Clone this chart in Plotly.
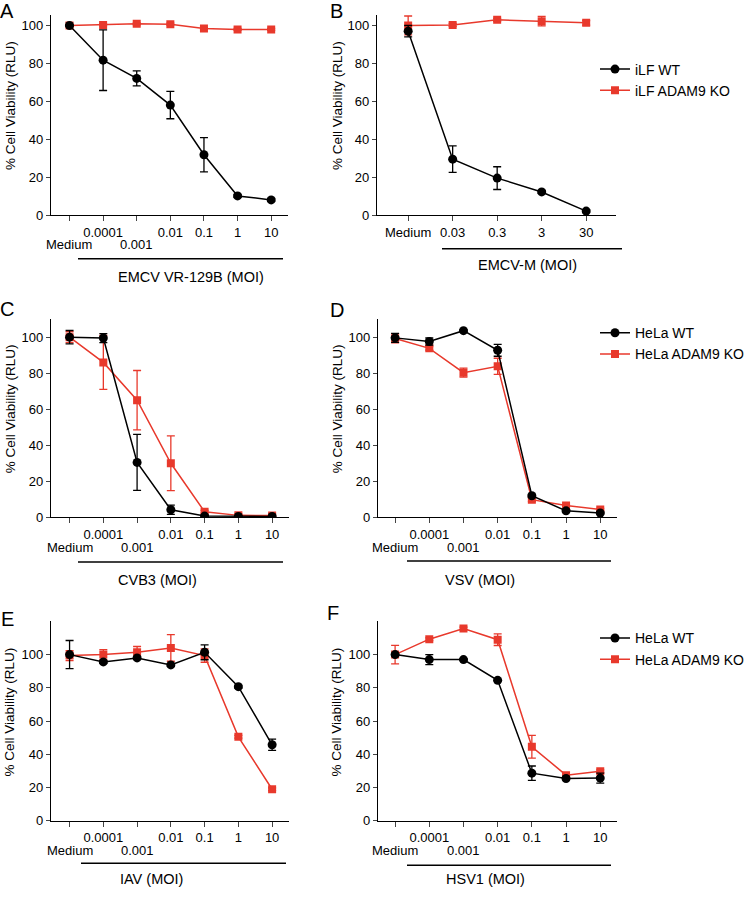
import plotly.graph_objects as go

W, H = 750, 898
FONT = "Liberation Sans, Arial, sans-serif"
BLACK = "#000000"
RED = "#E8392C"

# ---------------- data ----------------
cats7 = ["Medium", "0.0001", "0.001", "0.01", "0.1", "1", "10"]
catsB = ["Medium", "0.03", "0.3", "3", "30"]

A_wt = [100, 81.7, 72.1, 58.0, 31.8, 10.1, 8.0]
A_wt_err = [0.5, 16, 4, 7.2, 9, 0.8, 0.8]
A_ko = [100, 100.3, 100.9, 100.7, 98.4, 97.9, 97.9]
A_ko_err = [0.5, 0.5, 0.5, 0.5, 0.5, 0.5, 0.5]

B_wt = [97, 29.5, 19.5, 12.2, 2.1]
B_wt_err = [3, 7, 6, 0.8, 0.8]
B_ko = [100, 100.3, 103, 102.3, 101.4]
B_ko_err = [5, 0.8, 0.8, 2.5, 1.2]

C_wt = [100, 99.5, 30.5, 4.2, 0.7, 0.5, 0.5]
C_wt_err = [3.7, 2.5, 15.5, 2.6, 0.5, 0.5, 0.5]
C_ko = [100, 86, 65, 30, 3.1, 1.1, 1.0]
C_ko_err = [3, 15, 16.5, 15.2, 0.8, 0.5, 0.5]

D_wt = [99.6, 97.6, 103.6, 92.7, 12, 3.6, 2.4]
D_wt_err = [2.5, 2, 0.5, 3.3, 0.8, 0.5, 0.5]
D_ko = [99.3, 93.8, 80.3, 83.8, 9.8, 6.6, 4.4]
D_ko_err = [2.5, 1, 2.5, 4.5, 1, 0.5, 0.5]

E_wt = [100, 95.6, 98, 93.8, 101.4, 80.7, 45.7]
E_wt_err = [8.5, 0.8, 0.8, 0.8, 4.5, 0.8, 3.4]
E_ko = [99.4, 100, 101.4, 104, 99.4, 50.5, 18.9]
E_ko_err = [3, 3, 3.5, 8, 4, 0.8, 0.8]

F_wt = [100, 97, 97, 84.5, 28.6, 25.4, 25.6]
F_wt_err = [0.8, 3, 0.5, 0.5, 4.3, 0.8, 3]
F_ko = [100, 109.3, 115.7, 109, 44.5, 27.4, 29.8]
F_ko_err = [5.6, 0.8, 0.8, 3.5, 6.8, 0.8, 0.8]

yticks = [0, 20, 40, 60, 80, 100]

def fx(px):
    return px / W

def fy(py):
    return 1 - py / H

panels = [
    dict(name="A", cats=cats7, wt=A_wt, wte=A_wt_err, ko=A_ko, koe=A_ko_err,
         box=(51, 15, 288, 217), xr=[-0.55, 6.5], yr=[0, 105.6],
         wtname="iLF WT", koname="iLF ADAM9 KO", legend=None, stagger=True,
         title="EMCV VR-129B (MOI)", tx=116, ty=279, line=(78, 283, 261),
         letter=(7, 11), ylab=(10, 107)),
    dict(name="B", cats=catsB, wt=B_wt, wte=B_wt_err, ko=B_ko, koe=B_ko_err,
         box=(377, 15, 616, 217), xr=[-0.7, 4.67], yr=[0, 105.6],
         wtname="iLF WT", koname="iLF ADAM9 KO", legend="legend", stagger=False,
         title="EMCV-M (MOI)", tx=476, ty=267, line=(442, 622, 251),
         letter=(336, 11), ylab=(337, 107)),
    dict(name="C", cats=cats7, wt=C_wt, wte=C_wt_err, ko=C_ko, koe=C_ko_err,
         box=(51, 322, 289, 522), xr=[-0.55, 6.5], yr=[0, 110],
         wtname="HeLa WT", koname="HeLa ADAM9 KO", legend=None, stagger=True,
         title="CVB3 (MOI)", tx=116, ty=585, line=(78, 283, 567),
         letter=(7, 312), ylab=(10, 413)),
    dict(name="D", cats=cats7, wt=D_wt, wte=D_wt_err, ko=D_ko, koe=D_ko_err,
         box=(378, 322, 617, 522), xr=[-0.5, 6.49], yr=[0, 110],
         wtname="HeLa WT", koname="HeLa ADAM9 KO", legend="legend2", stagger=True,
         title="VSV (MOI)", tx=443, ty=585, line=(407, 611, 566),
         letter=(337, 313), ylab=(337, 413)),
    dict(name="E", cats=cats7, wt=E_wt, wte=E_wt_err, ko=E_ko, koe=E_ko_err,
         box=(51, 627, 289, 828), xr=[-0.55, 6.5], yr=[0, 120],
         wtname="HeLa WT", koname="HeLa ADAM9 KO", legend=None, stagger=True,
         title="IAV (MOI)", tx=118, ty=887, line=(81, 286, 871),
         letter=(7, 625), ylab=(10, 719)),
    dict(name="F", cats=cats7, wt=F_wt, wte=F_wt_err, ko=F_ko, koe=F_ko_err,
         box=(378, 627, 617, 828), xr=[-0.5, 6.49], yr=[0, 120],
         wtname="HeLa WT", koname="HeLa ADAM9 KO", legend="legend3", stagger=True,
         title="HSV1 (MOI)", tx=444, ty=887, line=(407, 611, 873),
         letter=(333, 619), ylab=(337, 719)),
]

fig = go.Figure()
layout = dict(
    width=W, height=H, margin=dict(l=0, r=0, t=0, b=0),
    paper_bgcolor="white", plot_bgcolor="white",
    font=dict(family=FONT, size=13, color="black"),
    annotations=[], shapes=[],
)

# (row-1 centre y, left x) of each legend
legend_pos = {"legend": (66, 595), "legend2": (332, 595), "legend3": (640, 595)}

for i, p in enumerate(panels):
    k = "" if i == 0 else str(i + 1)
    xa, ya = "x" + k, "y" + k
    x0, y0, x1, y1 = p["box"]
    idx = list(range(len(p["cats"])))
    if p["stagger"]:
        ticktext = [c if j % 2 == 1 or j >= 3 else "" for j, c in enumerate(p["cats"])]
    else:
        ticktext = p["cats"]
    layout["xaxis" + k] = dict(
        domain=[fx(x0), fx(x1)], anchor=ya, range=p["xr"],
        tickvals=idx, ticktext=ticktext, ticks="outside", ticklen=5, tickwidth=1.2,
        showline=True, linecolor="black", linewidth=1.2, showgrid=False,
        zeroline=False, tickfont=dict(size=13), fixedrange=True,
    )
    layout["yaxis" + k] = dict(
        domain=[fy(y1), fy(y0)], anchor=xa, range=p["yr"],
        tickvals=yticks, ticks="outside", ticklen=4, tickwidth=1.2,
        showline=True, linecolor="black", linewidth=1.2, showgrid=False,
        zeroline=False, tickfont=dict(size=13), fixedrange=True,
    )
    showleg = p["legend"] is not None
    leg = p["legend"] if showleg else "legend"
    fig.add_trace(go.Scatter(
        x=idx, y=p["ko"], xaxis=xa, yaxis=ya, mode="lines+markers",
        name=p["koname"], showlegend=showleg, legend=leg, legendrank=2,
        line=dict(color=RED, width=1.5),
        marker=dict(symbol="square", size=8, color=RED),
        error_y=dict(type="data", array=p["koe"], color=RED, thickness=1.3, width=4),
    ))
    fig.add_trace(go.Scatter(
        x=idx, y=p["wt"], xaxis=xa, yaxis=ya, mode="lines+markers",
        name=p["wtname"], showlegend=showleg, legend=leg, legendrank=1,
        line=dict(color=BLACK, width=1.5),
        marker=dict(symbol="circle", size=9, color=BLACK),
        error_y=dict(type="data", array=p["wte"], color=BLACK, thickness=1.3, width=4),
    ))
    if showleg:
        ly, lx = legend_pos[p["legend"]]
        layout[p["legend"]] = dict(
            x=fx(lx), y=fy(ly - 12), xanchor="left", yanchor="top",
            bgcolor="rgba(0,0,0,0)", font=dict(size=14, family=FONT),
            traceorder="normal", itemwidth=30,
        )
    if p["stagger"]:
        lab_y = y1 + 30
        for j in (0, 2):
            layout["annotations"].append(dict(
                x=idx[j], xref=xa, y=fy(lab_y), yref="paper",
                text=p["cats"][j], showarrow=False, xanchor="center",
                yanchor="middle", font=dict(size=13)))
    lx0, lx1, lyy = p["line"]
    layout["shapes"].append(dict(
        type="line", xref="paper", yref="paper", x0=fx(lx0), x1=fx(lx1),
        y0=fy(lyy), y1=fy(lyy), line=dict(color="black", width=1.5)))
    layout["annotations"].append(dict(
        x=fx(p["tx"]), y=fy(p["ty"]), xref="paper", yref="paper",
        text=p["title"], showarrow=False, xanchor="left", yanchor="middle",
        font=dict(size=14.5)))
    layout["annotations"].append(dict(
        x=fx(p["letter"][0]), y=fy(p["letter"][1]), xref="paper", yref="paper",
        text=p["name"], showarrow=False, xanchor="center", yanchor="middle",
        font=dict(size=20)))
    layout["annotations"].append(dict(
        x=fx(p["ylab"][0]), y=fy(p["ylab"][1]), xref="paper", yref="paper",
        text="% Cell Viability (RLU)", showarrow=False, textangle=-90,
        xanchor="center", yanchor="middle", font=dict(size=13.5)))

fig.update_layout(**layout)
fig.write_html(
    "out.html",
    config={"displayModeBar": False},
    post_script="document.body.style.margin='0';document.body.style.overflow='hidden';",
)
